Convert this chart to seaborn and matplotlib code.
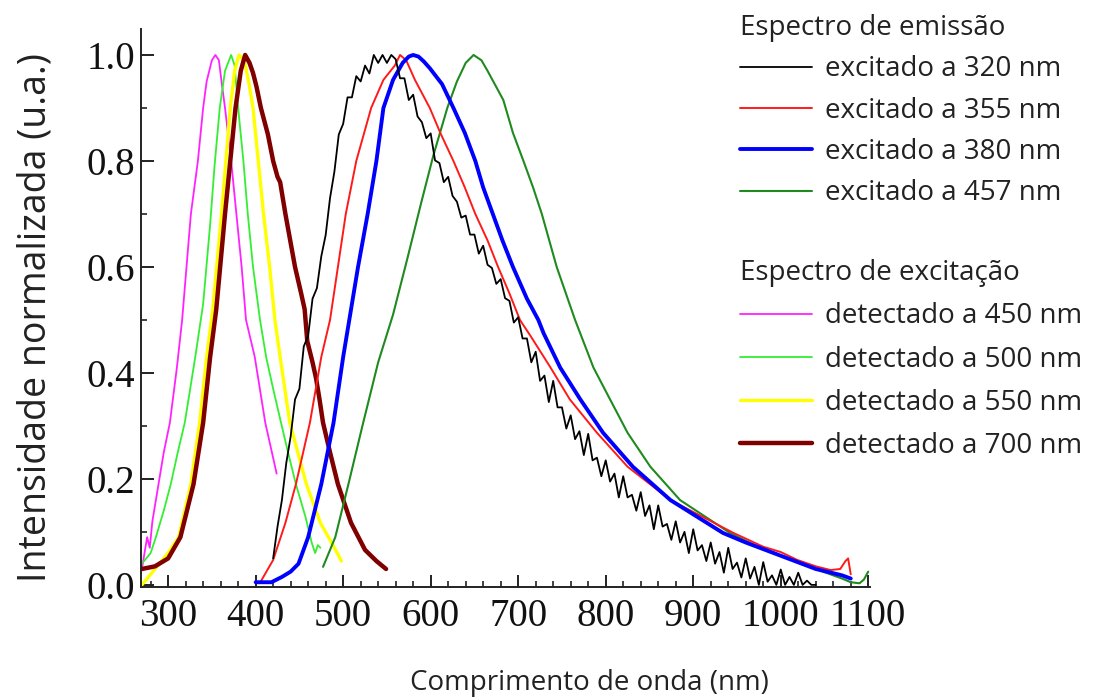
import matplotlib
matplotlib.use("Agg")
import matplotlib.pyplot as plt
import seaborn as sns
import numpy as np
from matplotlib.ticker import MultipleLocator, FormatStrFormatter

# ---------------- data ----------------
# Emission spectra
em320_x = [420, 425, 430, 435, 440, 445, 450, 455, 460, 465, 470, 475, 480, 485, 490, 495,
           500, 505, 510, 515, 520, 525, 530, 535, 540, 545, 550, 555, 560, 565, 570, 575,
           580, 585, 590, 595, 600, 605, 610, 615, 620, 625, 630, 635, 640, 645, 650, 655,
           660, 665, 670, 675, 680, 685, 690, 695, 700, 705, 710, 715, 720, 725, 730, 735,
           740, 745, 750, 755, 760, 765, 770, 775, 780, 785, 790, 795, 800, 805, 810, 815,
           820, 825, 830, 835, 840, 845, 850, 855, 860, 865, 870, 875, 880, 885, 890, 895,
           900, 905, 910, 915, 920, 925, 930, 935, 940, 945, 950, 955, 960, 965, 970, 975,
           980, 985, 990, 995, 1000, 1005, 1010, 1015, 1020, 1025, 1030, 1035, 1040]
em320_y = [0.05, 0.11, 0.16, 0.23, 0.28, 0.35, 0.37, 0.45, 0.47, 0.54, 0.56, 0.62, 0.66, 0.73, 0.78, 0.85,
           0.87, 0.92, 0.92, 0.96, 0.95, 0.98, 0.965, 1.0, 0.985, 1.0, 0.985, 1.0, 0.992, 0.956, 0.956, 0.915,
           0.925, 0.884, 0.873, 0.843, 0.852, 0.801, 0.796, 0.76, 0.77, 0.734, 0.723, 0.693, 0.697, 0.661, 0.661, 0.625,
           0.64, 0.604, 0.598, 0.568, 0.577, 0.541, 0.536, 0.495, 0.505, 0.465, 0.465, 0.42, 0.44, 0.385, 0.395, 0.345,
           0.385, 0.335, 0.335, 0.295, 0.32, 0.275, 0.29, 0.245, 0.285, 0.235, 0.24, 0.205, 0.235, 0.195, 0.21, 0.165,
           0.205, 0.165, 0.17, 0.14, 0.175, 0.13, 0.15, 0.105, 0.15, 0.11, 0.115, 0.085, 0.12, 0.08, 0.10, 0.06,
           0.105, 0.065, 0.075, 0.045, 0.08, 0.04, 0.062, 0.023, 0.07, 0.03, 0.042, 0.014, 0.05, 0.012, 0.034, 0.0,
           0.043, 0.006, 0.018, 0.0, 0.029, 0.0, 0.015, 0.0, 0.023, 0.0, 0.008, 0.0, 0.0]

em355_x = [405, 420, 434, 446, 462, 475, 485, 494, 503, 515, 532, 546, 559, 565, 572, 582, 599, 611,
           626, 639, 651, 665, 677, 690, 702, 714, 737, 759, 790, 825, 874, 946, 980, 1000, 1019,
           1040, 1057, 1068, 1074, 1077, 1080]
em355_y = [0.004, 0.047, 0.117, 0.19, 0.306, 0.43, 0.50, 0.60, 0.70, 0.80, 0.90, 0.953, 0.98, 1.0, 0.99,
           0.953, 0.90, 0.853, 0.80, 0.75, 0.70, 0.65, 0.60, 0.55, 0.50, 0.47, 0.41, 0.35, 0.287, 0.223,
           0.16, 0.098, 0.072, 0.062, 0.047, 0.035, 0.028, 0.03, 0.045, 0.05, 0.02]

em380_x = [400, 418, 430, 440, 449, 460, 475, 489, 500, 509, 517, 528, 538, 546, 557, 568, 575, 580,
           586, 592, 599, 613, 626, 639, 651, 660, 671, 682, 694, 710, 723, 729, 748, 771, 797, 831,
           874, 934, 960, 1000, 1040, 1070, 1080]
em380_y = [0.005, 0.005, 0.015, 0.025, 0.04, 0.09, 0.19, 0.306, 0.43, 0.52, 0.60, 0.70, 0.80, 0.90,
           0.953, 0.985, 0.997, 1.0, 0.997, 0.988, 0.975, 0.945, 0.90, 0.853, 0.80, 0.75, 0.70, 0.65,
           0.60, 0.54, 0.50, 0.475, 0.41, 0.35, 0.287, 0.223, 0.16, 0.098, 0.08, 0.055, 0.03, 0.018, 0.012]

em457_x = [477, 491, 506, 522, 540, 557, 574, 589, 603, 619, 630, 640, 649, 658, 665, 683, 694, 706,
           717, 727, 744, 765, 786, 805, 825, 851, 885, 942, 970, 1000, 1040, 1070, 1080, 1090, 1095, 1100]
em457_y = [0.034, 0.09, 0.19, 0.30, 0.42, 0.51, 0.62, 0.72, 0.81, 0.90, 0.95, 0.985, 1.0, 0.99, 0.97,
           0.915, 0.853, 0.80, 0.75, 0.70, 0.60, 0.50, 0.41, 0.35, 0.287, 0.223, 0.16, 0.098, 0.075,
           0.055, 0.03, 0.012, 0.005, 0.003, 0.01, 0.025]

# Excitation spectra
ex450_x = [270, 273, 276, 279, 282, 289, 295, 302, 310, 316, 326, 334, 340, 344, 350, 354, 358, 361,
           365, 372, 378, 384, 389, 399, 411, 424]
ex450_y = [0.03, 0.06, 0.09, 0.07, 0.12, 0.19, 0.25, 0.306, 0.41, 0.50, 0.70, 0.80, 0.90, 0.95, 0.99,
           1.0, 0.99, 0.95, 0.90, 0.80, 0.70, 0.60, 0.50, 0.43, 0.306, 0.21]

ex500_x = [270, 280, 286, 295, 303, 311, 319, 331, 340, 348, 353, 359, 365, 372, 376, 380, 386, 391,
           397, 405, 412, 420, 429, 437, 446, 457, 464, 468, 471, 474]
ex500_y = [0.04, 0.06, 0.09, 0.14, 0.19, 0.25, 0.306, 0.43, 0.53, 0.68, 0.79, 0.90, 0.97, 1.0, 0.98,
           0.90, 0.80, 0.70, 0.60, 0.50, 0.43, 0.37, 0.306, 0.25, 0.19, 0.128, 0.08, 0.06, 0.075, 0.07]

ex550_x = [270, 285, 300, 312, 326, 336, 344, 351, 361, 366, 371, 376, 381, 387, 392, 397, 403, 409,
           416, 422, 428, 439, 458, 474, 490, 498]
ex550_y = [0.0, 0.03, 0.06, 0.09, 0.19, 0.306, 0.43, 0.52, 0.70, 0.80, 0.90, 0.97, 1.0, 0.99, 0.95,
           0.90, 0.80, 0.70, 0.60, 0.50, 0.43, 0.306, 0.19, 0.117, 0.07, 0.045]

ex700_x = [270, 285, 300, 314, 329, 340, 348, 355, 365, 371, 377, 383, 388, 393, 397, 401, 406, 414,
           420, 425, 428, 434, 445, 452, 456, 459, 465, 469, 473, 477, 485, 494, 509, 525, 538, 549]
ex700_y = [0.03, 0.035, 0.05, 0.09, 0.19, 0.306, 0.43, 0.52, 0.70, 0.80, 0.90, 0.97, 1.0, 0.985,
           0.966, 0.94, 0.90, 0.85, 0.80, 0.77, 0.76, 0.70, 0.60, 0.55, 0.52, 0.46, 0.42, 0.39, 0.35,
           0.306, 0.25, 0.19, 0.117, 0.066, 0.045, 0.03]

em_labels = ["excitado a 320 nm", "excitado a 355 nm", "excitado a 380 nm", "excitado a 457 nm"]
ex_labels = ["detectado a 450 nm", "detectado a 500 nm", "detectado a 550 nm", "detectado a 700 nm"]
em_title = "Espectro de emissão"
ex_title = "Espectro de excitação"
x_ticks = [300, 400, 500, 600, 700, 800, 900, 1000, 1100]
y_ticks = [0.0, 0.2, 0.4, 0.6, 0.8, 1.0]
x_label = "Comprimento de onda (nm)"
y_label = "Intensidade normalizada (u.a.)"

# ---------------- styling ----------------
sns.set_theme(style="ticks")
plt.rcParams["font.family"] = ["Open Sans", "DejaVu Sans"]

fig = plt.figure(figsize=(10.94, 7.0), dpi=100)
ax = fig.add_axes([141 / 1094, 113 / 700, (870 - 141) / 1094, (587 - 29) / 700])

series = [
    (ex450_x, ex450_y, "#ff22ff", 1.3, ex_labels[0]),
    (ex500_x, ex500_y, "#33ee33", 1.3, ex_labels[1]),
    (ex550_x, ex550_y, "#ffff00", 2.4, ex_labels[2]),
    (ex700_x, ex700_y, "#800000", 3.2, ex_labels[3]),
    (em457_x, em457_y, "#1f8a1f", 1.5, em_labels[3]),
    (em355_x, em355_y, "#ff1a1a", 1.4, em_labels[1]),
    (em380_x, em380_y, "#0000ff", 2.8, em_labels[2]),
    (em320_x, em320_y, "#000000", 1.3, em_labels[0]),
]
for xs, ys, c, lw, lab in series:
    sns.lineplot(x=xs, y=ys, ax=ax, color=c, linewidth=lw, label=lab,
                 estimator=None, sort=False, legend=False)

ax.set_xlim(269, 1102)
ax.set_ylim(-0.004, 1.049)
sns.despine(ax=ax)
for s in ["left", "bottom"]:
    ax.spines[s].set_linewidth(1.4)
    ax.spines[s].set_color("#222222")

ax.set_xticks(x_ticks)
ax.set_yticks(y_ticks)
ax.xaxis.set_minor_locator(MultipleLocator(20))
ax.yaxis.set_minor_locator(MultipleLocator(0.1))
ax.yaxis.set_major_formatter(FormatStrFormatter("%.1f"))
ax.tick_params(which="major", direction="in", length=9, width=1.4, color="#222222",
               labelsize=28, pad=4)
ax.tick_params(axis="x", which="major", pad=8)
ax.tick_params(which="minor", direction="in", length=4.5, width=1.2, color="#222222")
for lbl in ax.get_xticklabels() + ax.get_yticklabels():
    lbl.set_fontfamily(["Liberation Serif", "DejaVu Serif"])
    lbl.set_color("#111111")

ax.set_xlabel(x_label, fontsize=20, color="#222222")
ax.set_ylabel(y_label, fontsize=27, color="#222222")
ax.xaxis.set_label_coords((589 - 141) / 729, (587 - 683) / 558)
ax.xaxis.label.set_va("center")
ax.yaxis.set_label_coords((36 - 141) / 729, (587 - 318) / 558)
ax.yaxis.label.set_va("center")

# ---------------- legends ----------------
handles, labels = ax.get_legend_handles_labels()
hmap = dict(zip(labels, handles))
leg_kw = dict(frameon=False, fontsize=20, title_fontsize=20, handlelength=2.6,
              handletextpad=0.47, borderpad=0, borderaxespad=0,
              alignment="left", labelcolor="#222222")
leg1 = fig.legend([hmap[l] for l in em_labels], em_labels, title=em_title, labelspacing=0.48,
                  loc="upper left", bbox_to_anchor=(740 / 1094, 1 - 14 / 700), **leg_kw)
leg2 = fig.legend([hmap[l] for l in ex_labels], ex_labels, title=ex_title, labelspacing=0.55,
                  loc="upper left", bbox_to_anchor=(740 / 1094, 1 - 259 / 700), **leg_kw)
for lg in (leg1, leg2):
    lg.get_title().set_color("#222222")

fig.savefig("out.png", dpi=100)
